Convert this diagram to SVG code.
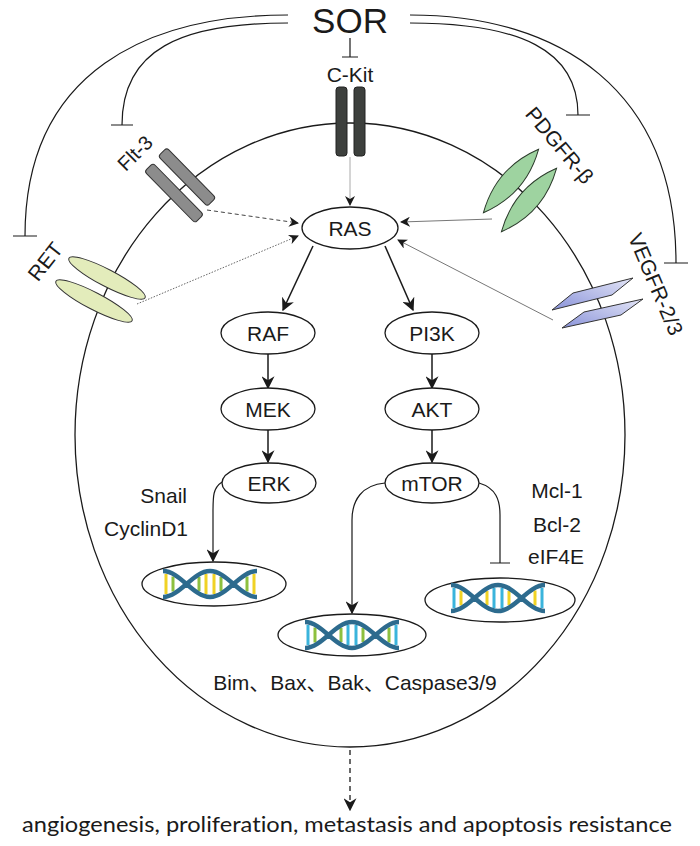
<svg xmlns="http://www.w3.org/2000/svg" width="700" height="846" viewBox="0 0 700 846">
<style>
text{font-family:"Liberation Sans",Arial,sans-serif;fill:#1a1a1a}
.lbl{font-size:21px;text-anchor:middle}
.node{fill:#fff;stroke:#1a1a1a;stroke-width:1.3}
.ln{fill:none;stroke:#1a1a1a;stroke-width:1.2}
.main{fill:none;stroke:#1a1a1a;stroke-width:1.5}
.thin{fill:none;stroke:#777;stroke-width:1}
.strand{fill:none;stroke:#2d6b8e;stroke-width:4.5}
.Y{fill:#f0d224}.G{fill:#8dc03f}.C{fill:#3ab4dc}
</style>
<defs>
<marker id="ah" viewBox="0 0 10 10" refX="9" refY="5" markerWidth="13" markerHeight="13" markerUnits="userSpaceOnUse" orient="auto">
<path d="M0,0 L10,5 L0,10 L3,5 Z" fill="#1a1a1a"/>
</marker>
<marker id="ahs" viewBox="0 0 10 10" refX="9" refY="5" markerWidth="10" markerHeight="10" markerUnits="userSpaceOnUse" orient="auto">
<path d="M0,0 L10,5 L0,10 L3,5 Z" fill="#1a1a1a"/>
</marker>
<linearGradient id="vg" x1="0" y1="1" x2="1" y2="0">
<stop offset="0" stop-color="#8a93d9"/>
<stop offset="1" stop-color="#e4e6f7"/>
</linearGradient>
<path id="strands" class="strand" d="M0,-13 C17,-13 30,13 47,13 C64,13 77,-13 94,-13 M0,13 C17,13 30,-13 47,-13 C64,-13 77,13 94,13"/>
</defs>

<g id="cell">
<ellipse cx="350" cy="435" rx="275" ry="312" fill="none" stroke="#1a1a1a" stroke-width="1.3"/>
</g>

<g id="SOR"><text x="350" y="33" style="font-size:35px;text-anchor:middle">SOR</text></g>

<g id="connectors">
<path class="ln" d="M288,15 C150,15 25,70 25,236 M13,236 H37"/>
<path class="ln" d="M288,23 C180,23 122,50 122,125 M111,125 H133"/>
<path class="ln" d="M410,23 C520,23 578,50 578,115 M566,115 H590"/>
<path class="ln" d="M410,15 C560,15 676,90 676,263 M664,263 H688"/>
<path class="ln" d="M350,38 V57 M342,57 H358"/>
<path d="M350,157 V205" fill="none" stroke="#aaa" stroke-width="1" marker-end="url(#ahs)"/>
<path d="M207,210 L298,223" fill="none" stroke="#444" stroke-width="1" stroke-dasharray="4,3" marker-end="url(#ahs)"/>
<path d="M137,304 L298,236" fill="none" stroke="#666" stroke-width="1" stroke-dasharray="1.5,1.5" marker-end="url(#ahs)"/>
<path d="M492,219 L401,222" class="thin" marker-end="url(#ahs)"/>
<path d="M553,320 L398,240" class="thin" marker-end="url(#ahs)"/>
<path class="main" d="M313,246 L283,310" marker-end="url(#ah)"/>
<path class="main" d="M385,246 L413,310" marker-end="url(#ah)"/>
<path class="main" d="M268,354 V388" marker-end="url(#ah)"/>
<path class="main" d="M268,430 V462" marker-end="url(#ah)"/>
<path class="main" d="M432,354 V388" marker-end="url(#ah)"/>
<path class="main" d="M432,430 V462" marker-end="url(#ah)"/>
<path class="ln" d="M222,482 C213,488 213,496 213,512 V561" marker-end="url(#ah)"/>
<path class="ln" d="M385,483 C362,485 352,500 352,520 V613" marker-end="url(#ah)"/>
<path class="ln" d="M479,483 C496,488 500,500 500,515 V563 M490,563 H510"/>
<path d="M350,750 V810" fill="none" stroke="#1a1a1a" stroke-width="1.3" stroke-dasharray="5,4" marker-end="url(#ah)"/>
</g>

<g id="CKit">
<rect x="336" y="87" width="11" height="69" rx="3" fill="#3d403d" stroke="#222" stroke-width="1"/>
<rect x="354" y="87" width="11" height="69" rx="3" fill="#3d403d" stroke="#222" stroke-width="1"/>
<text class="lbl" x="350" y="82">C-Kit</text>
</g>

<g id="Flt3">
<rect x="-35" y="-6" width="70" height="12" rx="3" transform="translate(187,177) rotate(45.5)" fill="#8c8c8c" stroke="#333" stroke-width="1"/>
<rect x="-36" y="-6" width="72" height="12" rx="3" transform="translate(174,193) rotate(45.5)" fill="#8c8c8c" stroke="#333" stroke-width="1"/>
<text class="lbl" transform="translate(140,158) rotate(-45)" style="font-size:20px">Flt-3</text>
</g>

<g id="RET">
<ellipse cx="0" cy="0" rx="43" ry="8.5" transform="translate(107,278) rotate(27.5)" fill="#e3ecbb" stroke="#333" stroke-width="1"/>
<ellipse cx="0" cy="0" rx="43" ry="8.5" transform="translate(94,301) rotate(27.5)" fill="#e3ecbb" stroke="#333" stroke-width="1"/>
<text class="lbl" transform="translate(51,266) rotate(-52)">RET</text>
</g>

<g id="PDGFR">
<path d="M-42,0 Q0,-20 42,0 Q0,20 -42,0 Z" transform="translate(511,181) rotate(-49)" fill="#9ed3a0" stroke="#2a3a2a" stroke-width="1"/>
<path d="M-42,0 Q0,-20 42,0 Q0,20 -42,0 Z" transform="translate(529,200) rotate(-49)" fill="#9ed3a0" stroke="#2a3a2a" stroke-width="1"/>
<text class="lbl" transform="translate(554,150) rotate(50)">PDGFR-β</text>
</g>

<g id="VEGFR">
<path d="M552,310 L573,293 L633,278 L612,295 Z" fill="url(#vg)" stroke="#333" stroke-width="1"/>
<path d="M562,328 L584,312 L643,299 L621,315 Z" fill="url(#vg)" stroke="#333" stroke-width="1"/>
<text class="lbl" transform="translate(649,287) rotate(67)">VEGFR-2/3</text>
</g>

<g id="RAS"><ellipse class="node" cx="350" cy="228" rx="48" ry="21"/><text class="lbl" x="350" y="235.5">RAS</text></g>
<g id="RAF"><ellipse class="node" cx="268" cy="333" rx="47" ry="21"/><text class="lbl" x="268" y="340.5">RAF</text></g>
<g id="MEK"><ellipse class="node" cx="268" cy="409" rx="47" ry="21"/><text class="lbl" x="268" y="416.5">MEK</text></g>
<g id="ERK"><ellipse class="node" cx="269" cy="483" rx="47" ry="20"/><text class="lbl" x="269" y="490.5">ERK</text></g>
<g id="PI3K"><ellipse class="node" cx="432" cy="333" rx="47" ry="21"/><text class="lbl" x="432" y="340.5">PI3K</text></g>
<g id="AKT"><ellipse class="node" cx="432" cy="409" rx="47" ry="21"/><text class="lbl" x="432" y="416.5">AKT</text></g>
<g id="mTOR"><ellipse class="node" cx="432" cy="483" rx="47" ry="20"/><text class="lbl" x="432" y="490.5">mTOR</text></g>

<g id="DNA1">
<ellipse class="node" cx="214" cy="584" rx="72" ry="22"/>
<g transform="translate(163,584)">
<rect class="Y" x="1.5" y="-10" width="3" height="20"/><rect class="G" x="8.5" y="-7.5" width="3" height="15"/>
<rect class="G" x="34.5" y="-7" width="3" height="14"/><rect class="Y" x="41.5" y="-10" width="3" height="20"/>
<rect class="Y" x="49.5" y="-10" width="3" height="20"/><rect class="G" x="56.5" y="-7" width="3" height="14"/>
<rect class="G" x="82.5" y="-7.5" width="3" height="15"/><rect class="Y" x="89.5" y="-10" width="3" height="20"/>
<use href="#strands"/>
</g>
</g>

<g id="DNA2">
<ellipse class="node" cx="352" cy="635" rx="74" ry="21"/>
<g transform="translate(305,635)">
<rect class="C" x="1.5" y="-10" width="3" height="20"/><rect class="G" x="8.5" y="-7.5" width="3" height="15"/>
<rect class="G" x="34.5" y="-7" width="3" height="14"/><rect class="C" x="41.5" y="-10" width="3" height="20"/>
<rect class="C" x="49.5" y="-10" width="3" height="20"/><rect class="G" x="56.5" y="-7" width="3" height="14"/>
<rect class="G" x="82.5" y="-7.5" width="3" height="15"/><rect class="C" x="89.5" y="-10" width="3" height="20"/>
<use href="#strands"/>
</g>
</g>

<g id="DNA3">
<ellipse class="node" cx="500" cy="600" rx="75" ry="22"/>
<g transform="translate(451,598)">
<rect class="C" x="1.5" y="-10" width="3" height="20"/><rect class="Y" x="8.5" y="-7.5" width="3" height="15"/>
<rect class="Y" x="34.5" y="-7" width="3" height="14"/><rect class="C" x="41.5" y="-10" width="3" height="20"/>
<rect class="C" x="49.5" y="-10" width="3" height="20"/><rect class="Y" x="56.5" y="-7" width="3" height="14"/>
<rect class="Y" x="82.5" y="-7.5" width="3" height="15"/><rect class="C" x="89.5" y="-10" width="3" height="20"/>
<use href="#strands"/>
</g>
</g>

<g id="labels">
<text x="187" y="503" style="font-size:21px;text-anchor:end">Snail</text>
<text x="188" y="536" style="font-size:21px;text-anchor:end">CyclinD1</text>
<text class="lbl" x="557" y="498">Mcl-1</text>
<text class="lbl" x="557" y="532">Bcl-2</text>
<text class="lbl" x="556" y="564">eIF4E</text>
<text x="355" y="690" style="font-size:21px;text-anchor:middle;font-family:'Liberation Sans','Noto Sans CJK SC',sans-serif">Bim、Bax、Bak、Caspase3/9</text>
<text x="22" y="832" textLength="650" lengthAdjust="spacingAndGlyphs" style="font-family:Lato,'Open Sans',sans-serif;font-size:22px;font-variant-ligatures:none">angiogenesis, proliferation, metastasis and apoptosis resistance</text>
</g>
</svg>
